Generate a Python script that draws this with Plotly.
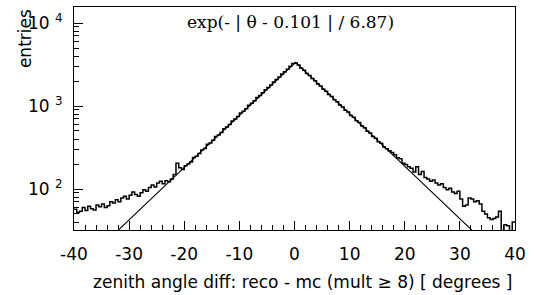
import numpy as np
import plotly.graph_objects as go

# Histogram definition: 160 bins of 0.5 deg from -40 to 40
bin_lo = -40.0
bin_hi = 40.0
bin_width = 0.5

counts_left = [
    57, 52, 54, 60, 55, 62, 58, 56, 64, 61,
    66, 60, 63, 70, 68, 74, 70, 78, 82, 76,
    84, 92, 86, 82, 90, 98, 94, 104, 112, 106,
    118, 124, 116, 126, 122, 132, 150, 205, 180, 172,
    190, 200, 212, 240, 248, 268, 296, 308, 345, 358,
    386, 428, 446, 480, 532, 558, 598, 662, 696, 748,
    822, 864, 930, 1020, 1078, 1160, 1268, 1340, 1442, 1575,
    1670, 1796, 1952, 2080, 2236, 2430, 2588, 2780, 3020, 3260,
]
counts_right = [
    3290, 3110, 2860, 2690, 2470, 2330, 2140, 2010, 1845, 1740,
    1595, 1505, 1380, 1300, 1190, 1125, 1030, 975, 890, 845,
    770, 730, 665, 632, 574, 546, 495, 472, 428, 410,
    370, 356, 320, 306, 290, 276, 258, 238, 232, 205,
    198, 186, 178, 160, 185, 150, 162, 138, 132, 124,
    128, 118, 112, 116, 104, 98, 102, 92, 88, 94,
    76, 62, 64, 78, 76, 70, 72, 66, 54, 50,
    45, 43, 44, 46, 54, 28, 37, 36, 28, 40,
]
counts = counts_left + counts_right

# Fit parameters: A * exp(-|theta - mu| / tau)
fit_amp = 3400.0
fit_mu = 0.101
fit_tau = 6.87

x_tick_vals = [-40, -30, -20, -10, 0, 10, 20, 30, 40]
x_tick_text = ["-40", "-30", "-20", "-10", "0", "10", "20", "30", "40"]
y_tick_vals = [100, 1000, 10000]
y_tick_text = ["10 <sup>2</sup>", "10 <sup>3</sup>", "10 <sup>4</sup>"]

fit_label = "exp(- | θ - 0.101 | / 6.87)"
x_title = "zenith angle diff: reco - mc (mult ≥ 8) [ degrees ]"
y_title = "entries"

edges = np.arange(bin_lo, bin_hi + bin_width / 2, bin_width)
hist_y = list(counts) + [counts[-1]]

xf = np.linspace(bin_lo, bin_hi, 801)
yf = fit_amp * np.exp(-np.abs(xf - fit_mu) / fit_tau)

SANS = "DejaVu Sans, Liberation Sans, sans-serif"

fig = go.Figure()
fig.add_trace(go.Scatter(x=edges, y=hist_y, mode="lines", line=dict(shape="hv", color="black", width=1.5),
                         showlegend=False, hoverinfo="skip"))
fig.add_trace(go.Scatter(x=xf, y=yf, mode="lines", line=dict(color="black", width=1.1),
                         showlegend=False, hoverinfo="skip"))

minor_y = [m * 10 ** e for e in range(1, 5) for m in range(2, 10)]

fig.update_layout(
    width=537, height=295,
    margin=dict(l=74, r=22, t=7, b=65, autoexpand=False),
    paper_bgcolor="white", plot_bgcolor="white",
    font=dict(family=SANS, size=16, color="black"),
    xaxis=dict(range=[bin_lo, bin_hi], tickvals=x_tick_vals, ticktext=x_tick_text,
               ticks="inside", ticklen=9,
               tickcolor="black", tickwidth=1, showgrid=False, zeroline=False, automargin=False,
               showline=True, linecolor="black", linewidth=1, mirror=True,
               minor=dict(dtick=2, ticks="inside", ticklen=5, tickcolor="black", showgrid=False),
               tickfont=dict(family=SANS, size=17), ticklabelstandoff=9),
    yaxis=dict(type="log", range=[1.506, 4.193], tickvals=y_tick_vals, ticktext=y_tick_text,
               ticks="inside", ticklen=9, tickcolor="black", tickwidth=1, showgrid=False,
               zeroline=False, showline=True, linecolor="black", linewidth=1, mirror=True,
               automargin=False,
               minor=dict(tickmode="array", tickvals=minor_y, ticks="inside", ticklen=5,
                          tickcolor="black", showgrid=False),
               tickfont=dict(family=SANS, size=17), ticklabelstandoff=7),
    annotations=[
        dict(text=fit_label, x=0.49, y=1.0, xref="paper", yref="paper", xanchor="center", yanchor="top",
             yshift=-3, showarrow=False,
             font=dict(family="DejaVu Serif, Liberation Serif, serif", size=17, color="black")),
        dict(text=x_title, x=1.0, y=-0.233, xref="paper", yref="paper", xanchor="right", yanchor="middle",
             showarrow=False, font=dict(family=SANS, size=17)),
        dict(text=y_title, x=-0.112, y=1.0, xref="paper", yref="paper", xanchor="center", yanchor="top",
             textangle=-90, showarrow=False, font=dict(family=SANS, size=17)),
    ],
)

fig.write_html("out.html", config={"displayModeBar": False},
               post_script="document.body.style.margin='0px';")
